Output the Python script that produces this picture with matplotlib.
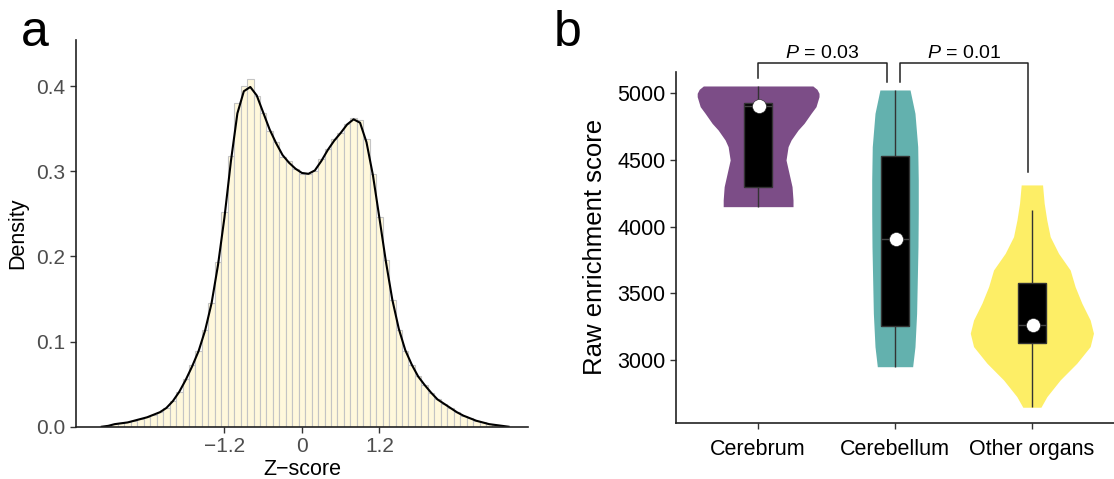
import numpy as np
import matplotlib
matplotlib.use('Agg')
import matplotlib.pyplot as plt

plt.rcParams['font.family'] = ['Liberation Sans', 'DejaVu Sans']
plt.rcParams['mathtext.fontset'] = 'custom'
plt.rcParams['mathtext.it'] = 'Liberation Sans:italic'
plt.rcParams['mathtext.rm'] = 'Liberation Sans'

#%% Data, panel a: z-score histogram + density curve
z_centers = [-3.1, -3.0, -2.9, -2.8, -2.7, -2.6, -2.5, -2.4, -2.3, -2.2,
             -2.1, -2.0, -1.9, -1.8, -1.7, -1.6, -1.5, -1.4, -1.3, -1.2,
             -1.1, -1.0, -0.9, -0.8, -0.7, -0.6, -0.5, -0.4, -0.3, -0.2,
             -0.1, 0.0, 0.1, 0.2, 0.3, 0.4, 0.5, 0.6, 0.7, 0.8,
             0.9, 1.0, 1.1, 1.2, 1.3, 1.4, 1.5, 1.6, 1.7, 1.8,
             1.9, 2.0, 2.1, 2.2, 2.3, 2.4, 2.5, 2.6, 2.7, 2.8,
             2.9, 3.0, 3.1, 3.2]
hist_density = [0.000, 0.001, 0.003, 0.004, 0.005, 0.007, 0.009, 0.011, 0.014, 0.017,
                0.022, 0.030, 0.041, 0.056, 0.072, 0.089, 0.113, 0.145, 0.193, 0.252,
                0.318, 0.380, 0.400, 0.408, 0.388, 0.368, 0.347, 0.334, 0.317, 0.312,
                0.303, 0.297, 0.297, 0.300, 0.314, 0.326, 0.338, 0.345, 0.356, 0.362,
                0.360, 0.338, 0.297, 0.246, 0.196, 0.149, 0.114, 0.089, 0.073, 0.059,
                0.049, 0.040, 0.032, 0.027, 0.022, 0.017, 0.013, 0.010, 0.007, 0.005,
                0.003, 0.002, 0.001, 0.000]
kde_density = [0.000, 0.001, 0.003, 0.004, 0.005, 0.007, 0.009, 0.011, 0.014, 0.017,
               0.022, 0.030, 0.041, 0.055, 0.071, 0.089, 0.113, 0.145, 0.190, 0.246,
               0.312, 0.368, 0.394, 0.399, 0.389, 0.369, 0.349, 0.333, 0.319, 0.310,
               0.303, 0.298, 0.297, 0.301, 0.312, 0.325, 0.336, 0.345, 0.355, 0.361,
               0.357, 0.334, 0.295, 0.245, 0.194, 0.149, 0.115, 0.090, 0.073, 0.059,
               0.049, 0.040, 0.032, 0.027, 0.022, 0.017, 0.013, 0.010, 0.007, 0.005,
               0.003, 0.002, 0.001, 0.000]

#%% Data, panel b: violins
groups = ['Cerebrum', 'Cerebellum', 'Other organs']
vio_colors = ['#440154', '#21908C', '#FDE725']

cerebrum_y = [4150, 4200, 4300, 4400, 4500, 4600, 4650, 4725, 4775, 4850, 4900, 4975, 5000, 5030, 5055]
cerebrum_w = [0.255, 0.255, 0.248, 0.226, 0.204, 0.219, 0.241, 0.292, 0.336, 0.387, 0.423, 0.445, 0.445, 0.43, 0.40]
cerebellum_y = [2950, 3100, 3350, 3600, 3850, 4100, 4350, 4600, 4850, 5025]
cerebellum_w = [0.129, 0.146, 0.158, 0.163, 0.168, 0.170, 0.170, 0.166, 0.146, 0.110]
other_y = [2646, 2726, 2851, 2976, 3101, 3201, 3300, 3426, 3550, 3675, 3800, 3925, 4050, 4175, 4313]
other_w = [0.066, 0.110, 0.207, 0.328, 0.426, 0.450, 0.426, 0.365, 0.316, 0.280, 0.195, 0.134, 0.109, 0.090, 0.078]

vio_y = [cerebrum_y, cerebellum_y, other_y]
vio_w = [cerebrum_w, cerebellum_w, other_w]

box_lo = [4150, 2950, 2646]
box_q1 = [4300, 3256, 3131]
box_med = [4905, 3910, 3263]
box_q3 = [4925, 4530, 3576]
box_hi = [5055, 5025, 4125]

pvals = ['0.03', '0.01']

#%% Plot
fig = plt.figure(figsize=(11.14, 4.79), dpi=100)

# panel a
ax1 = fig.add_axes([0.0682, 0.1092, 0.4057, 0.807])
ax1.bar(z_centers, hist_density, width=0.1, color='#FFF8DC',
        edgecolor='#C4C4C4', linewidth=0.8)
ax1.plot(z_centers, kde_density, color='black', lw=1.5)
ax1.set_xlim(-3.5, 3.5)
ax1.set_ylim(0, 0.454)
ax1.set_xticks([-1.2, 0, 1.2])
ax1.set_xticklabels(['\u22121.2', '0', '1.2'])
ax1.set_yticks([0.0, 0.1, 0.2, 0.3, 0.4])
ax1.set_yticklabels(['0.0', '0.1', '0.2', '0.3', '0.4'])
ax1.set_xlabel('Z\u2212score', fontsize=15.5, labelpad=2)
ax1.set_ylabel('Density', fontsize=15.5, labelpad=6)
ax1.tick_params(labelsize=15, colors='#333333', labelcolor='#4D4D4D',
                length=4, width=1)

# panel b
ax2 = fig.add_axes([0.6068, 0.1175, 0.3932, 0.7328])
for i in range(3):
    x = i + 1
    ys = np.array(vio_y[i])
    ws = np.array(vio_w[i])
    ax2.fill_betweenx(ys, x - ws, x + ws, color=vio_colors[i], alpha=0.7,
                      linewidth=0, zorder=1)
    ax2.vlines(x, box_lo[i], box_hi[i], color='#333333', lw=1, zorder=2)
    ax2.bar(x, box_q3[i] - box_q1[i], bottom=box_q1[i], width=0.2,
            color='black', edgecolor='#333333', linewidth=1, zorder=3)
    ax2.hlines(box_med[i], x - 0.1, x + 0.1, color='#444444', lw=1, zorder=4)
    ax2.scatter([x + 0.01], [box_med[i]], s=100, color='white',
                edgecolor='#222222', linewidth=0.4, zorder=5)

ax2.set_xlim(0.4, 3.6)
ax2.set_ylim(2530, 5162)
ax2.set_xticks([1, 2, 3])
ax2.set_xticklabels(groups)
ax2.set_yticks([3000, 3500, 4000, 4500, 5000])
ax2.set_ylabel('Raw enrichment score', fontsize=18.5, labelpad=7)
ax2.tick_params(labelsize=15.5, colors='#333333', labelcolor='black',
                length=4, width=1)
ax2.tick_params(axis='x', pad=8)

# significance brackets
brk = dict(color='#222222', lw=1.1, clip_on=False)
ax2.plot([1, 1, 1.94, 1.94], [5115, 5225, 5225, 5087], **brk)
ax2.plot([2.04, 2.04, 2.97, 2.97], [5087, 5225, 5225, 4410], **brk)
ax2.text(1.47, 5300, '$P$ = ' + pvals[0], ha='center', va='center', fontsize=14)
ax2.text(2.505, 5300, '$P$ = ' + pvals[1], ha='center', va='center', fontsize=14)

for ax in (ax1, ax2):
    for s in ('top', 'right'):
        ax.spines[s].set_visible(False)
    for s in ('left', 'bottom'):
        ax.spines[s].set_color('#222222')
        ax.spines[s].set_linewidth(1.2)

fig.text(0.019, 0.905, 'a', fontsize=36)
fig.text(0.497, 0.905, 'b', fontsize=36)

fig.savefig('out.png', dpi=100)
